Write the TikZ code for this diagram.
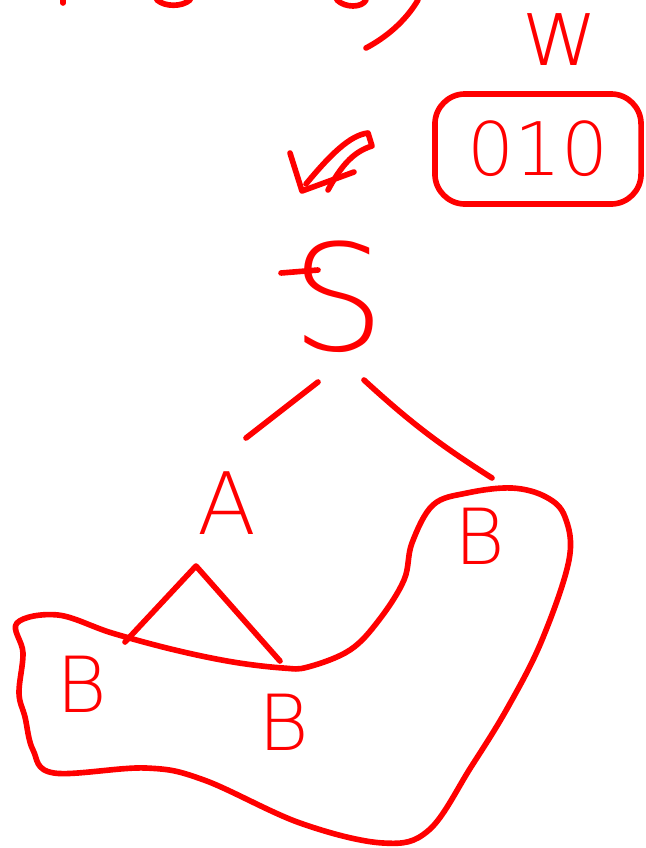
\documentclass[tikz,border=0pt]{standalone}
\usepackage{fontspec}
\newfontfamily\handfont{DejaVu Sans ExtraLight}
\usetikzlibrary{positioning}
\definecolor{pen}{RGB}{255,0,0}

\begin{document}
\begin{tikzpicture}[x=0.01cm, y=-0.01cm,
		ink/.style={draw=pen, line width=1.6pt, line cap=round, line join=round},
		lbl/.style={text=pen, inner sep=0pt}]
	\useasboundingbox (0,0) rectangle (646,848);
	
	% Reste oben (abgeschnitten)
	\draw[ink] (63,0) -- (63,3);
	\draw[ink] (157,0) .. controls (165,7) and (182,7) .. (190,0);
	\draw[ink] (337,0) .. controls (345,8) and (362,8) .. (366,0);
	\draw[ink] (418,0) .. controls (405,22) and (385,38) .. (366,48);
	
	% Wort
	\node[lbl, font=\handfont\fontsize{27}{27}\selectfont] (w) at (560,40) {w};
	\node[lbl, draw=pen, line width=1.6pt, rounded corners=0.3cm,
		minimum width=2.06cm, minimum height=1.1cm,
		font=\handfont\fontsize{21}{21}\selectfont] (word) at (538,149) {010};
	
	% Pfeil
	\coordinate (tip) at (302,191);
	\draw[ink] (290,153) -- (tip) -- (354,172);
	\draw[ink] (306,184) .. controls (330,155) and (350,135) .. (368,133) -- (372,146)
		.. controls (352,152) and (340,168) .. (328,190);
	
	% Baum
	\node[lbl, font=\handfont\fontsize{42}{42}\selectfont] (S) at (338,297) {S};
	\draw[ink] (281,273) -- (318,270);
	\node[lbl, font=\handfont\fontsize{24.5}{24.5}\selectfont] (A) at (227,503) {A};
	\node[lbl, font=\handfont\fontsize{22}{22}\selectfont] (B3) at (480,536) {B};
	\node[lbl, font=\handfont\fontsize{22}{22}\selectfont] (B1) at (82,684) {B};
	\node[lbl, font=\handfont\fontsize{22}{22}\selectfont] (B2) at (284,722) {B};
	
	\draw[ink] ([shift={(-20,85)}]S.center) -- ([shift={(19,-65)}]A.center);
	\draw[ink] ([shift={(26,83)}]S.center) to[bend right=5] ([shift={(12,-58)}]B3.center);
	\coordinate (apex) at ([shift={(-31,63)}]A.center);
	\draw[ink] ([shift={(43,-42)}]B1.center) -- (apex) -- ([shift={(-4,-61)}]B2.center);
	
	% Umrandung der Blaetter
	\draw[ink] plot[smooth cycle, tension=0.6] coordinates {
		(17,623) (58,615) (112,633) (175,650) (233,662) (283,668) (308,667)
		(350,650) (379,620) (404,580) (412,543) (433,505) (467,493) (512,488)
		(546,497) (565,517) (569,560) (542,640) (508,707) (471,767) (429,830)
		(383,843) (300,823) (204,780) (146,768) (54,773) (33,750) (25,717)
		(19,693) (23,653)};
\end{tikzpicture}
\end{document}
